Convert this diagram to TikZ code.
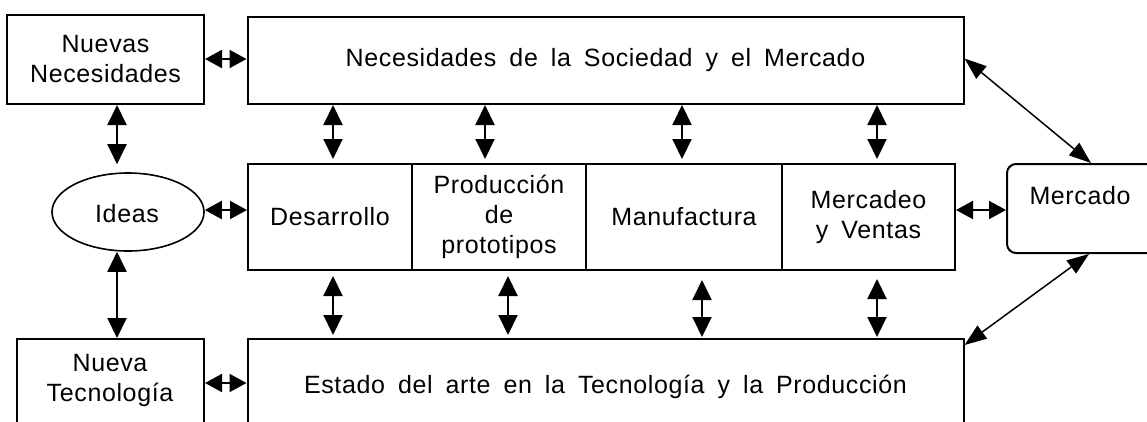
\documentclass[tikz,border=0pt]{standalone}
\usepackage{fontspec}
\setmainfont{Liberation Sans}
\usetikzlibrary{arrows.meta,shapes.geometric,calc}
\tikzset{
  box/.style={draw, line width=2pt, rectangle, inner sep=0pt, align=center, font=\lbl},
  txt/.style={inner sep=0pt, align=center, font=\lbl},
  dbl/.style={line width=2pt, {Triangle[length=20pt,width=19pt]}-{Triangle[length=20pt,width=19pt]}},
  hdbl/.style={line width=2pt, {Triangle[length=17pt,width=18pt]}-{Triangle[length=17pt,width=18pt]}},
  diag/.style={line width=1.5pt, {Triangle[length=22pt,width=16pt]}-{Triangle[length=22pt,width=16pt]}}
}
\newcommand{\lbl}{\fontsize{25}{30}\selectfont\addfontfeatures{LetterSpace=2.5}\spaceskip=13pt plus 2pt minus 1pt\relax}
\begin{document}
\begin{tikzpicture}[x=1pt,y=-1pt]
\useasboundingbox (0,0) rectangle (1147,421);
\clip (0,0) rectangle (1147,421);
% boxes
\node[box, minimum width=197pt, minimum height=89pt] (nn) at (105.5,59.5) {Nuevas\\Necesidades};
\node[box, minimum width=716pt, minimum height=87pt] (soc) at (605.5,60.5) {Necesidades de la Sociedad y el Mercado};
\node[box, minimum width=164pt, minimum height=106pt] (des) at (330,217) {Desarrollo};
\node[box, minimum width=174pt, minimum height=106pt] (pro) at (499,217) {Producción\\de\\prototipos};
\node[box, minimum width=196pt, minimum height=106pt] (man) at (684,217) {Manufactura};
\node[box, minimum width=173pt, minimum height=106pt] (mv) at (868.5,217) {Mercadeo\\y Ventas};
\node[draw, line width=1.6pt, ellipse, minimum width=152pt, minimum height=78pt, inner sep=0pt] (ideas) at (128,212) {};
\node[txt] (ideasT) at (127,214) {Ideas};
\node[draw, line width=2pt, rounded corners=9pt, minimum width=163pt, minimum height=89pt, inner sep=0pt] (merc) at (1088.5,208.5) {};
\node[txt] (mercT) at (1080,196) {Mercado};
\node[box, minimum width=716pt, minimum height=96pt] (est) at (605.5,387) {Estado del arte en la Tecnología y la Producción};
\node[draw, line width=2pt, minimum width=187pt, minimum height=96pt, inner sep=0pt] (tec) at (110.5,387) {};
\node[txt] (tecT) at (110,380) {Nueva\\Tecnología};
% x positions
\coordinate (xa) at (117,0);
\coordinate (x1) at (333,0);
\coordinate (x2) at (485,0);
\coordinate (x3) at (682,0);
\coordinate (x4) at (877,0);
\coordinate (y2) at (508,0);
\coordinate (y3) at (702,0);
% horizontal arrows
\draw[hdbl] ([yshift=0.5pt]nn.east) -- ([yshift=0.5pt]nn.east -| soc.west);
\draw[hdbl] ([yshift=2pt]ideas.east) -- ([yshift=2pt]ideas.east -| des.west);
\draw[hdbl] ([yshift=7pt]mv.east) -- ([yshift=7pt]mv.east -| merc.west);
\draw[hdbl] ([yshift=4pt]tec.east) -- ([yshift=4pt]tec.east -| est.west);
% left vertical arrows
\draw[dbl, shorten >=8pt] (xa |- nn.south) -- (xa |- ideas.north);
\draw[dbl] (xa |- ideas.south) -- (xa |- tec.north);
% top row
\draw[dbl, shorten >=4pt] (x1 |- soc.south) -- (x1 |- des.north);
\draw[dbl, shorten >=4pt] (x2 |- soc.south) -- (x2 |- pro.north);
\draw[dbl, shorten >=4pt] (x3 |- soc.south) -- (x3 |- man.north);
\draw[dbl, shorten >=4pt] (x4 |- soc.south) -- (x4 |- mv.north);
% bottom row
\draw[dbl, shorten <=5pt, shorten >=3pt] (x1 |- des.south) -- (x1 |- est.north);
\draw[dbl, shorten <=5pt, shorten >=3pt] (y2 |- pro.south) -- (y2 |- est.north);
\draw[dbl, shorten <=9pt, shorten >=1pt] (y3 |- man.south) -- (y3 |- est.north);
\draw[dbl, shorten <=8pt, shorten >=1pt] (x4 |- mv.south) -- (x4 |- est.north);
% diagonals
\draw[diag] ([yshift=2pt]soc.east) -- ([xshift=85pt]merc.north west);
\draw[diag] ([xshift=83pt]merc.south west) -- ([yshift=-7pt]est.east |- est.north);
\end{tikzpicture}
\end{document}
